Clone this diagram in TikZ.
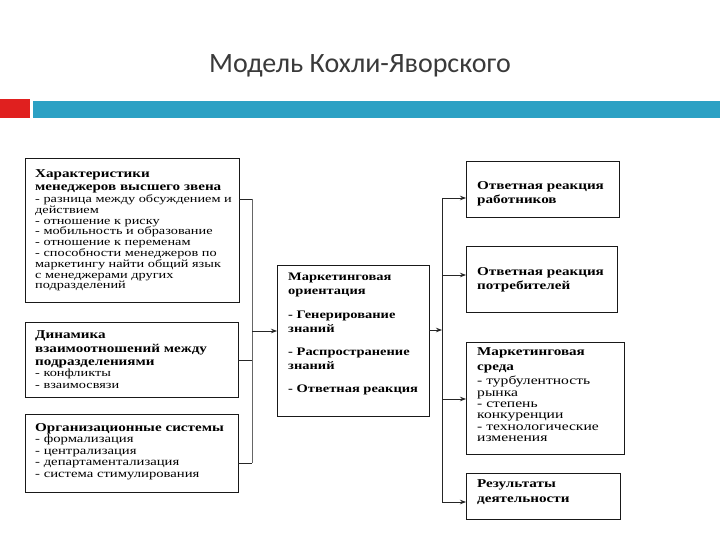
\documentclass[tikz,border=0pt]{standalone}
\usepackage{fontspec}
\setmainfont{Liberation Serif}
\newfontfamily\titlefont{Carlito}
\newfontfamily\boxfont[FakeStretch=1.3]{Liberation Serif}
\newfontfamily\headfont[FakeStretch=1.26]{Liberation Serif}
\usetikzlibrary{arrows.meta}
\definecolor{barteal}{HTML}{2CA1C4}
\definecolor{barred}{HTML}{E0201F}
\definecolor{titlegray}{HTML}{3A3A3A}
\begin{document}
\begin{tikzpicture}[x=1pt,y=-1pt,
  box/.style={draw=black!90,line width=1pt,inner sep=0pt,outer sep=0pt,anchor=north west},
  head/.style={anchor=north west,inner sep=0pt,align=left,font=\headfont\bfseries\fontsize{12}{13}\selectfont},
  body/.style={anchor=north west,inner sep=0pt,align=left,font=\boxfont\fontsize{11}{10.8}\selectfont},
  conn/.style={draw=black!85,line width=0.8pt},
  arr/.style={conn,-{Stealth[length=6pt,width=4.5pt]}}]
\useasboundingbox[fill=white] (0,0) rectangle (720,540);
% title and bars
\node[anchor=base,font=\titlefont\fontsize{28}{32}\selectfont,text=titlegray] (title) at (360,73) {Модель Кохли-Яворского};
\fill[barred] (0,99) rectangle (30,118);
\fill[barteal] (33,101) rectangle (720,118);
% left boxes
\node[box,minimum width=214pt,minimum height=143pt] (b1) at (25,159) {};
\node[head] (b1h) at (35,169.5) {Характеристики\\менеджеров высшего звена};
\node[body] (b1t) at (35,194.5) {- разница между обсуждением и\\действием\\- отношение к риску\\- мобильность и образование\\- отношение к переменам\\- способности менеджеров по\\маркетингу найти общий язык\\с менеджерами других\\подразделений};
\node[box,minimum width=213pt,minimum height=75pt] (b2) at (25,322) {};
\node[head,font=\headfont\bfseries\fontsize{12}{13.5}\selectfont] (b2h) at (35,330.5) {Динамика\\взаимоотношений между\\подразделениями};
\node[body,font=\boxfont\fontsize{11}{12.5}\selectfont] (b2t) at (35,368.5) {- конфликты\\- взаимосвязи};
\node[box,minimum width=213pt,minimum height=78pt] (b3) at (25,414) {};
\node[head] (b3h) at (35,423.5) {Организационные системы};
\node[body,font=\boxfont\fontsize{11.3}{11.6}\selectfont] (b3t) at (35,434.5) {- формализация\\- централизация\\- департаментализация\\- система стимулирования};
% middle box
\node[box,minimum width=152pt,minimum height=151pt] (m) at (277,265) {};
\node[head,font=\headfont\bfseries\fontsize{11.5}{13.8}\selectfont] (mt) at (288,273) {Маркетинговая\\ориентация\\[10pt]- Генерирование\\знаний\\[9.5pt]- Распространение\\знаний\\[9.5pt]- Ответная реакция};
% right boxes
\node[box,minimum width=153pt,minimum height=56pt] (r1) at (466,162) {};
\node[head,font=\headfont\bfseries\fontsize{12}{14.5}\selectfont] (r1t) at (477,181) {Ответная реакция\\работников};
\node[box,minimum width=151pt,minimum height=66pt] (r2) at (466,246) {};
\node[head,font=\headfont\bfseries\fontsize{12}{14}\selectfont] (r2t) at (477,267.5) {Ответная реакция\\потребителей};
\node[box,minimum width=158pt,minimum height=112pt] (r3) at (466,342) {};
\node[head,font=\headfont\bfseries\fontsize{12}{14.5}\selectfont] (r3h) at (477,347.5) {Маркетинговая\\среда};
\node[body,font=\boxfont\fontsize{12}{11.4}\selectfont] (r3t) at (477,376) {- турбулентность\\рынка\\- степень\\конкуренции\\- технологические\\изменения};
\node[box,minimum width=154pt,minimum height=46pt] (r4) at (466,473) {};
\node[head,font=\headfont\bfseries\fontsize{12}{15}\selectfont] (r4t) at (477,479) {Результаты\\деятельности};
% left connectors
\coordinate (L1) at (252,199);
\coordinate (L2) at (252,360);
\coordinate (L3) at (252,463);
\coordinate (LM) at (252,331);
\draw[conn] (b1.east |- L1) -- (L1);
\draw[conn] (b2.east |- L2) -- (L2);
\draw[conn] (b3.east |- L3) -- (L3);
\draw[conn,draw=black!60] (L1) -- (L3);
\draw[arr] (LM) -- (m.west |- LM);
% right connectors
\coordinate (RM) at (442,330);
\coordinate (RA) at (442,198);
\coordinate (RB) at (442,275);
\coordinate (RC) at (442,399);
\coordinate (RD) at (442,502);
\draw[arr] (m.east |- RM) -- (RM);
\draw[conn] (RA) -- (RD);
\draw[arr] (RA) -- (r1.west |- RA);
\draw[arr] (RB) -- (r2.west |- RB);
\draw[arr] (RC) -- (r3.west |- RC);
\draw[arr] (RD) -- (r4.west |- RD);
\end{tikzpicture}
\end{document}
